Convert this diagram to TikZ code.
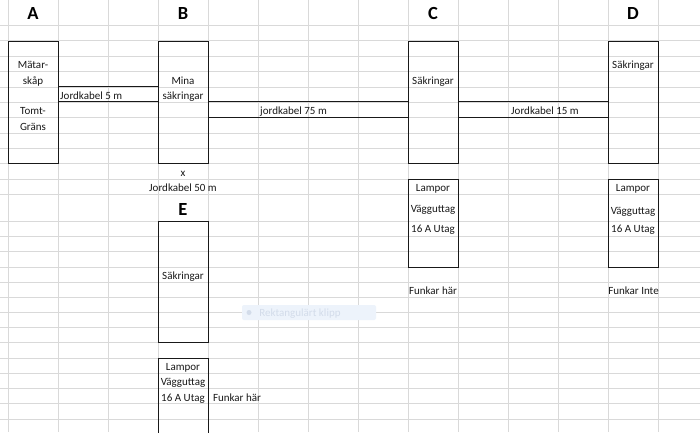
\documentclass[tikz,border=0pt]{standalone}
\usepackage{fontspec}
\setmainfont{Carlito}
\usetikzlibrary{calc}
\definecolor{gridgray}{HTML}{D9D9D9}
\definecolor{clipblue}{HTML}{EDF3FB}
\definecolor{cliptext}{HTML}{D3DCEA}
\tikzset{
	gridline/.style={draw=gridgray, line width=0.8pt},
	cell/.style={draw=black!90, line width=1pt, minimum width=50pt, inner sep=0pt},
	cable/.style={draw=black!90, line width=1pt},
	txt/.style={font=\fontsize{11}{13}\selectfont, text=black!90, inner sep=0pt, anchor=base},
	head/.style={font=\fontsize{18.5}{20}\selectfont\bfseries, inner sep=0pt, anchor=base},
}

\begin{document}
\begin{tikzpicture}[x=1pt,y=-1pt]
			%%%%% START %%%%%
			\clip (0,0) rectangle (700,432);
			\fill[white] (0,0) rectangle (700,432);
			
			% sheet grid
			\foreach \gx in {8,58,...,658}
				\draw[gridline] (\gx,0) -- (\gx,432);
			\foreach \gy in {25,40.7,56.2,71.7,87,102.2,117.5,133,148.2,163.3,179,194.3,221.7,236.8,251.8,267,282.2,297.3,312.3,327.5,342.7,358,373.2,388.5,403.8,419}
				\draw[gridline] (0,\gy) -- (700,\gy);
			
			% faint clip hint
			\node[fill=clipblue, rounded corners=2pt, minimum width=134pt, minimum height=15pt, inner sep=0pt] (klipp) at (309,312.5) {};
			\fill[cliptext] (249,312.5) circle (2.5);
			\node[txt, text=cliptext] (klipptxt) at (300,316) {Rektangulärt klipp};
			
			% headers
			\node[head] (hA) at (33,19) {A};
			\node[head] (hB) at (183,19) {B};
			\node[head] (hC) at (433,19) {C};
			\node[head] (hD) at (633,19) {D};
			\node[head] (hE) at (183,215) {E};
			
			% boxes
			\node[cell, minimum height=122pt] (skapA) at (33,102) {};
			\node[cell, minimum height=122pt] (sakB) at (183,102) {};
			\node[cell, minimum height=122pt] (sakC) at (433,102) {};
			\node[cell, minimum height=122pt] (sakD) at (633,102) {};
			\node[cell, minimum height=121pt] (sakE) at (183,282.2) {};
			\node[cell, minimum height=88pt] (utagC) at (433,223) {};
			\node[cell, minimum height=88pt] (utagD) at (633,223) {};
			\node[cell, minimum height=84pt] (utagE) at (183,400) {};
			
			% cables
			\draw[cable] ($(skapA.north east)+(0,46)$) -- ($(sakB.north west)+(0,46)$);
			\draw[cable] ($(skapA.north east)+(0,61)$) -- ($(sakB.north west)+(0,61)$);
			\draw[cable] ($(sakB.north east)+(0,61)$) -- ($(sakC.north west)+(0,61)$);
			\draw[cable] ($(sakB.north east)+(0,76.5)$) -- ($(sakC.north west)+(0,76.5)$);
			\draw[cable] ($(sakC.north east)+(0,61)$) -- ($(sakD.north west)+(0,61)$);
			\draw[cable] ($(sakC.north east)+(0,76.5)$) -- ($(sakD.north west)+(0,76.5)$);
			
			\node[txt, anchor=base west] (kabAB) at (60,99) {Jordkabel 5 m};
			\node[txt] (kabBC) at (293.5,114.5) {jordkabel 75 m};
			\node[txt] (kabCD) at (545,114.5) {Jordkabel 15 m};
			\node[txt] (kabBEx) at (183,176) {x};
			\node[txt] (kabBE) at (183,191) {Jordkabel 50 m};
			
			% box texts
			\node[txt] (tA1) at (33,68.7) {Mätar-};
			\node[txt] (tA2) at (33,84) {skåp};
			\node[txt] (tA3) at (33,114.5) {Tomt-};
			\node[txt] (tA4) at (33,130) {Gräns};
			\node[txt] (tB1) at (183,84) {Mina};
			\node[txt] (tB2) at (183,99) {säkringar};
			\node[txt] (tC1) at (433,84) {Säkringar};
			\node[txt] (tD1) at (633,68.7) {Säkringar};
			\node[txt] (tE1) at (183,279) {Säkringar};
			
			\node[txt] (uC1) at (433,191) {Lampor};
			\node[txt] (uC2) at (433,212.5) {Vägguttag};
			\node[txt] (uC3) at (433,232.5) {16 A Utag};
			\node[txt] (uD1) at (633,191) {Lampor};
			\node[txt] (uD2) at (633,214.5) {Vägguttag};
			\node[txt] (uD3) at (633,232.5) {16 A Utag};
			\node[txt] (uE1) at (183,370) {Lampor};
			\node[txt] (uE2) at (183,385.5) {Vägguttag};
			\node[txt] (uE3) at (183,401) {16 A Utag};
			
			\node[txt] (okC) at (433,294) {Funkar här};
			\node[txt] (badD) at (633.5,294) {Funkar Inte};
			\node[txt] (okE) at (237,401) {Funkar här};
			%%%%% END %%%%%
\end{tikzpicture}
\end{document}
